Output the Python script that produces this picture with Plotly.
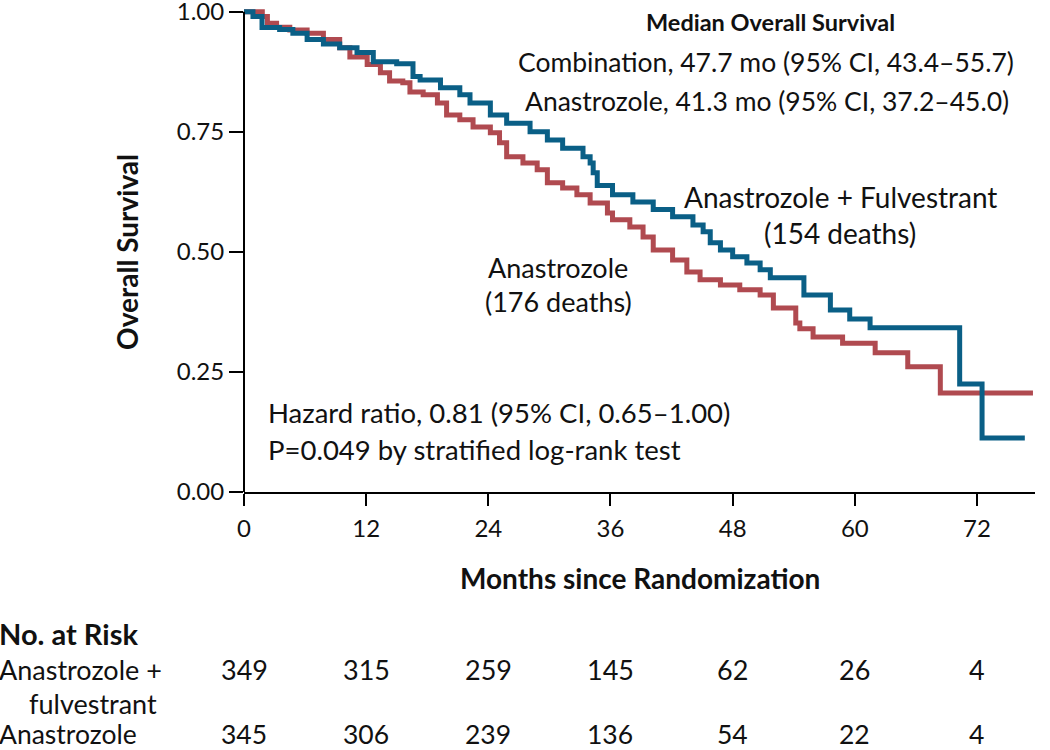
import plotly.graph_objects as go

# ---- data ----
combo_months = [0, 0.88, 1.77, 3.5, 4.8, 6.2, 7.8, 9.4, 11.1, 12.7, 15.0, 16.6, 17.3, 19.3,
                21.2, 22.2, 24.2, 25.8, 28.1, 29.8, 31.3, 33.3, 34.0, 34.3, 34.7, 36.2,
                38.2, 40.2, 42.1, 44.1, 45.1, 45.8, 46.8, 48.0, 49.4, 50.7, 51.7, 55.0,
                57.6, 59.5, 61.5, 70.3, 72.5, 76.7]
combo_surv = [1.0, 0.99, 0.967, 0.963, 0.955, 0.942, 0.933, 0.925, 0.915, 0.896, 0.892, 0.865,
              0.858, 0.842, 0.827, 0.81, 0.785, 0.768, 0.75, 0.733, 0.716, 0.698, 0.685, 0.665,
              0.638, 0.619, 0.604, 0.588, 0.573, 0.556, 0.542, 0.519, 0.504, 0.49, 0.477, 0.463,
              0.446, 0.41, 0.379, 0.36, 0.342, 0.225, 0.1125, 0.1125]

ana_months = [0, 1.8, 2.3, 3.2, 4.5, 6.2, 7.8, 9.4, 10.4, 12.1, 13.4, 14.3, 15.6, 16.3, 17.6,
              19.0, 19.9, 21.2, 22.5, 24.2, 25.1, 25.8, 27.4, 28.8, 29.8, 31.3, 32.7, 34.0,
              35.7, 36.2, 37.9, 39.2, 40.2, 42.1, 43.5, 44.8, 46.8, 48.7, 50.7, 52.0, 54.2,
              54.6, 55.9, 58.8, 62.0, 65.2, 68.4, 77.5]
ana_surv = [1.0, 0.99, 0.976, 0.968, 0.962, 0.955, 0.942, 0.925, 0.906, 0.89, 0.873, 0.856,
            0.852, 0.833, 0.827, 0.81, 0.785, 0.775, 0.76, 0.748, 0.727, 0.698, 0.685, 0.671,
            0.644, 0.633, 0.619, 0.602, 0.581, 0.567, 0.552, 0.531, 0.504, 0.483, 0.458, 0.442,
            0.431, 0.421, 0.41, 0.383, 0.352, 0.34, 0.323, 0.31, 0.29, 0.261, 0.206, 0.206]

risk_months = [0, 12, 24, 36, 48, 60, 72]
risk_combo = [349, 315, 259, 145, 62, 26, 4]
risk_ana = [345, 306, 239, 136, 54, 22, 4]

y_ticks = [0.0, 0.25, 0.5, 0.75, 1.0]
y_ticklabels = ["0.00", "0.25", "0.50", "0.75", "1.00"]

BLUE = "#0a5f86"
RED = "#b04a50"
FONT = "Lato"
TXT = "#111111"
FS = 27  # body text size

# ---- geometry ----
W, H = 1050, 750
L, R = 244, 15
X0, Y0 = 244, 492          # pixel of origin
PX_PER_UNIT_Y = 480
Y_TOP = 1.012
plot_h = Y_TOP * PX_PER_UNIT_Y
T = Y0 - plot_h
B = H - Y0
X_MAX = 77.7


def py(p):  # pixel row -> paper y
    return (Y0 - p) / plot_h


def mx(p):  # pixel column -> month
    return (p - X0) / ((W - L - R) / X_MAX)


def pxp(p):  # pixel column -> paper x
    return (p - L) / (W - L - R)


fig = go.Figure()
fig.add_trace(go.Scatter(x=ana_months, y=ana_surv, mode="lines", line=dict(color=RED, width=5, shape="hv"),
                         name="Anastrozole", hoverinfo="skip"))
fig.add_trace(go.Scatter(x=combo_months, y=combo_surv, mode="lines", line=dict(color=BLUE, width=5, shape="hv"),
                         name="Anastrozole + Fulvestrant", hoverinfo="skip"))

ann = []


def add(text, x, y, size=FS, bold=False, xanchor="center", xref="x", yref="paper", textangle=0):
    ann.append(dict(text=("<b>%s</b>" % text) if bold else text, x=x, y=y, xref=xref, yref=yref,
                    xanchor=xanchor, yanchor="middle", showarrow=False, textangle=textangle,
                    font=dict(family=FONT, size=size, color=TXT)))


add("Median Overall Survival", mx(770), py(22), size=23.5, bold=True)
add("Combination, 47.7 mo (95% CI, 43.4–55.7)", mx(766), py(62), size=26.5)
add("Anastrozole, 41.3 mo (95% CI, 37.2–45.0)", mx(767), py(101), size=26.5)
add("Anastrozole + Fulvestrant", mx(840), py(197), size=28)
add("(154 deaths)", mx(840), py(233), size=28)
add("Anastrozole", mx(558), py(268))
add("(176 deaths)", mx(558), py(302))
add("Hazard ratio, 0.81 (95% CI, 0.65–1.00)", mx(266), py(413), size=27.5, xanchor="left")
add("P=0.049 by stratified log-rank test", mx(266), py(450), size=27.5, xanchor="left")
add("Months since Randomization", mx(640), py(578), size=28, bold=True)
add("Overall Survival", pxp(127), py(252), size=28, bold=True, xref="paper", textangle=-90)

add("No. at Risk", pxp(-3), py(633), size=29, bold=True, xanchor="left", xref="paper")
add("Anastrozole +", pxp(-3), py(669), xanchor="left", xref="paper")
add("fulvestrant", pxp(27), py(703), xanchor="left", xref="paper")
add("Anastrozole", pxp(-3), py(734), size=26.5, xanchor="left", xref="paper")
for m, a, b in zip(risk_months, risk_combo, risk_ana):
    add(str(a), m, py(669))
    add(str(b), m, py(734), size=26.5)

fig.update_layout(
    width=W, height=H,
    margin=dict(l=L, r=R, t=T, b=B, pad=0, autoexpand=False),
    paper_bgcolor="white", plot_bgcolor="white",
    showlegend=False,
    annotations=ann,
    shapes=[dict(type="line", xref="paper", yref="paper", x0=0, x1=0, y0=0, y1=1.0 / Y_TOP,
                 line=dict(color="black", width=2))],
    xaxis=dict(range=[0, X_MAX], tickmode="array", tickvals=risk_months,
               ticktext=[str(v) for v in risk_months], showline=True, linecolor="black", linewidth=2,
               ticks="outside", ticklen=12, tickwidth=2, tickcolor="black", showgrid=False, zeroline=False,
               tickfont=dict(family=FONT, size=24, color=TXT), ticklabelstandoff=2,
               ticklabeloverflow="allow", automargin=False, fixedrange=True),
    yaxis=dict(range=[0, Y_TOP], tickmode="array", tickvals=y_ticks, ticktext=y_ticklabels,
               showline=False, ticks="outside", ticklen=14, tickwidth=2, tickcolor="black",
               showgrid=False, zeroline=False, tickfont=dict(family=FONT, size=24, color=TXT),
               ticklabelstandoff=0, ticklabeloverflow="allow", automargin=False, fixedrange=True),
)

fig.write_html("out.html", config={"displayModeBar": False},
               post_script="document.body.style.margin='0';document.body.style.overflow='hidden';")
